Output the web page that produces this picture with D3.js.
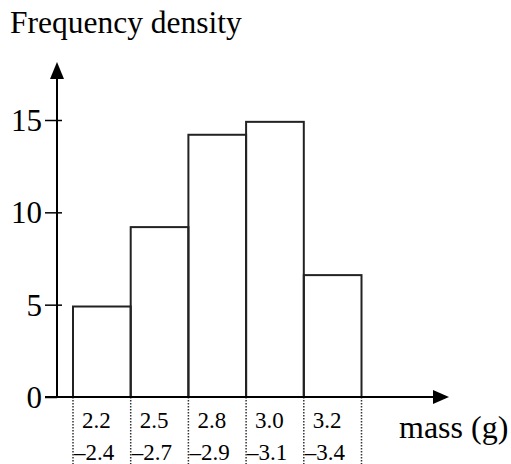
<!DOCTYPE html>
<html>
<head>
<meta charset="utf-8">
<script src="https://cdn.jsdelivr.net/npm/d3@7"></script>
<style>
body { margin: 0; background: #fff; }
text { font-family: "Liberation Serif", "Times New Roman", serif; fill: #000; }
</style>
</head>
<body>
<div id="chart"></div>
<script>
// class intervals (lower and upper bounds) and frequency densities
var lower = ["2.2", "2.5", "2.8", "3.0", "3.2"];
var upper = ["2.4", "2.7", "2.9", "3.1", "3.4"];
var density = [4.9, 9.2, 14.2, 14.9, 6.6];
var yTicks = [0, 5, 10, 15];

var width = 511;
var height = 464;

var svg = d3.select("#chart")
    .append("svg")
    .attr("width", width)
    .attr("height", height);

var x = d3.scaleBand()
    .domain(lower)
    .range([73, 361.5])
    .padding(0);

var y = d3.scaleLinear()
    .domain([0, 15])
    .range([397, 120]);

var axisX = 57;

// bars
svg.selectAll(".bar")
    .data(density)
    .enter()
    .append("rect")
    .attr("class", "bar")
    .attr("x", function(d, i) { return x(lower[i]); })
    .attr("y", function(d) { return y(d); })
    .attr("width", x.bandwidth())
    .attr("height", function(d) { return y(0) - y(d); })
    .attr("fill", "none")
    .attr("stroke", "#222")
    .attr("stroke-width", 2);

// dotted class boundaries under the axis
var bounds = lower.map(function(d) { return x(d); }).concat([x.range()[1]]);
svg.selectAll(".bound")
    .data(bounds)
    .enter()
    .append("line")
    .attr("x1", function(d) { return d; })
    .attr("x2", function(d) { return d; })
    .attr("y1", y(0))
    .attr("y2", height)
    .attr("stroke", "#333")
    .attr("stroke-width", 1.5)
    .attr("stroke-dasharray", "1.5,1.5");

// y axis ticks and labels
var yAxis = d3.axisLeft(y)
    .tickValues(yTicks)
    .tickSizeInner(12)
    .tickSizeOuter(0)
    .tickPadding(3)
    .tickFormat(d3.format("d"));

var gy = svg.append("g")
    .attr("transform", "translate(" + axisX + ",0)")
    .call(yAxis);
gy.select(".domain").remove();
gy.selectAll(".tick line")
    .attr("x1", function(d) { return d === 0 ? 0 : 5; })
    .attr("stroke", "#000")
    .attr("stroke-width", 1.5);
gy.selectAll(".tick text")
    .attr("font-family", "Liberation Serif")
    .attr("font-size", 31)
    .attr("dy", "0.34em");

// axis lines with arrowheads
svg.append("line")
    .attr("x1", axisX).attr("x2", axisX)
    .attr("y1", y(0)).attr("y2", 76)
    .attr("stroke", "#000").attr("stroke-width", 2);
svg.append("path")
    .attr("d", "M" + axisX + ",62L" + (axisX - 7) + ",79L" + (axisX + 7) + ",79Z")
    .attr("fill", "#000");

svg.append("line")
    .attr("x1", 45).attr("x2", 436)
    .attr("y1", y(0)).attr("y2", y(0))
    .attr("stroke", "#000").attr("stroke-width", 2);
svg.append("path")
    .attr("d", "M449," + y(0) + "L433," + (y(0) - 7) + "L433," + (y(0) + 7) + "Z")
    .attr("fill", "#000");

// interval labels
svg.selectAll(".lo")
    .data(lower)
    .enter()
    .append("text")
    .attr("x", function(d) { return x(d) + 9; })
    .attr("y", 428)
    .attr("font-size", 23)
    .text(function(d) { return d; });

svg.selectAll(".hi")
    .data(upper)
    .enter()
    .append("text")
    .attr("x", function(d, i) { return x(lower[i]) + 1; })
    .attr("y", 460)
    .attr("font-size", 23)
    .text(function(d) { return "\u2013" + d; });

// titles
svg.append("text")
    .attr("x", 10)
    .attr("y", 33)
    .attr("font-size", 31.5)
    .text("Frequency density");

svg.append("text")
    .attr("x", 399)
    .attr("y", 438)
    .attr("font-size", 32)
    .text("mass (g)");
</script>
</body>
</html>
